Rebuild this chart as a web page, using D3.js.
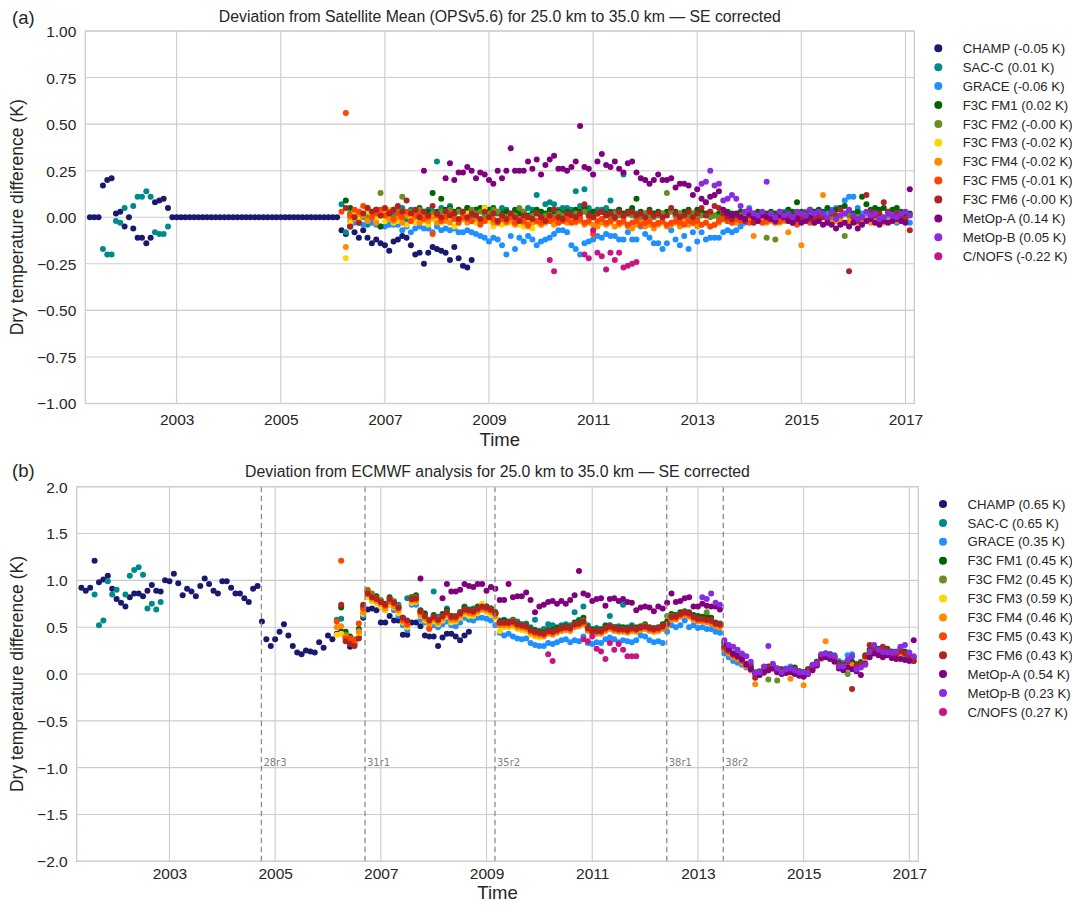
<!DOCTYPE html>
<html><head><meta charset="utf-8">
<script src="https://cdn.jsdelivr.net/npm/d3@7"></script>
<style>body{margin:0;background:#fff;} svg{display:block;}</style>
</head><body><svg id="chart" width="1072" height="905"></svg>
<script>
// ---------- categories / labels ----------
const satellites = ["CHAMP","SAC-C","GRACE","F3C FM1","F3C FM2","F3C FM3","F3C FM4","F3C FM5","F3C FM6","MetOp-A","MetOp-B","C/NOFS"];
const colors = ["#191970","#008b8b","#1e90ff","#006400","#6b8e23","#ffd700","#ff8c00","#ff4500","#b22222","#800080","#8a2be2","#c71585"];
const legendA = ["CHAMP (-0.05 K)","SAC-C (0.01 K)","GRACE (-0.06 K)","F3C FM1 (0.02 K)","F3C FM2 (-0.00 K)","F3C FM3 (-0.02 K)","F3C FM4 (-0.02 K)","F3C FM5 (-0.01 K)","F3C FM6 (-0.00 K)","MetOp-A (0.14 K)","MetOp-B (0.05 K)","C/NOFS (-0.22 K)"];
const legendB = ["CHAMP (0.65 K)","SAC-C (0.65 K)","GRACE (0.35 K)","F3C FM1 (0.45 K)","F3C FM2 (0.45 K)","F3C FM3 (0.59 K)","F3C FM4 (0.46 K)","F3C FM5 (0.43 K)","F3C FM6 (0.43 K)","MetOp-A (0.54 K)","MetOp-B (0.23 K)","C/NOFS (0.27 K)"];
const titleA = "Deviation from Satellite Mean (OPSv5.6) for 25.0 km to 35.0 km \u2014 SE corrected";
const titleB = "Deviation from ECMWF analysis for 25.0 km to 35.0 km \u2014 SE corrected";
const xTicks = [2003,2005,2007,2009,2011,2013,2015,2017];
const yTicksA = [-1,-0.75,-0.5,-0.25,0,0.25,0.5,0.75,1];
const yTicksB = [-2,-1.5,-1,-0.5,0,0.5,1,1.5,2];
const cycleNames = ["28r3","31r1","35r2","38r1","38r2"];
const cycleDates = [2004.74,2006.70,2009.16,2012.41,2013.48];

// ---------- monthly values (month index counted from Jan 2001) ----------
// Panel (a): deviation from satellite mean
const champA_start = 4;
const champA = [0,0,0,.17,.20,.21,.02,.03,-.05,0,-.06,-.11,-.11,-.14,-.11,.08,.09,.10,.05,
 0,0,0,0,0,0,0,0,0,0, 0,0,0,0,0,0,0,0,0,0, 0,0,0,0,0,0,0,0,0,0, 0,0,0,0,0,0,0,0,0,
 -.07,-.09,-.05,-.08,-.11,-.07,-.11,-.14,-.12,-.14,-.15,-.18,-.13,-.12,-.10,-.11,-.15,-.20,-.19,-.25,
 -.19,-.16,-.17,-.18,-.19,-.23,-.16,-.22,-.26,-.27,-.23];
const sacA1_start = 7;
const sacA1 = [-.17,-.20,-.20,-.02,-.03,.05,null,.06,.11,.11,.14,.11,-.08,-.09,-.09,-.05];
const sacA2_start = 62;
const sacA2 = [.07,-.08,.02,null,-.03,null,-.04,.03,null,.01,
 null,.00,.02,null,.05,-.02,.04,.03,null,.02,
 .04,.03,.30,.05,.01,.06,.03,null,.03,.05,
 .01,.04,null,.05,.03,.04,.02,.05,.04,null,
 .03,.04,.02,.05,.04,.12,.03,.07,.08,.07,
 .04,.05,.05,.04,.14,.06,.15,.05,.03,.04,
 .04,.05,.09,.03,.04,.23,.03,.04,.02];
const graceA_start = 64;
const graceA = [-.02,-.03,-.02,-.04,-.02,-.03,-.04,-.05,-.05,-.04,
 -.04,-.04,-.07,-.05,-.08,-.06,-.05,-.06,-.06,-.08,
 -.05,-.07,-.06,-.07,-.06,-.08,-.08,-.07,-.08,-.09,
 -.10,-.11,-.13,-.11,-.12,-.15,-.20,-.10,-.17,-.11,
 -.13,-.10,-.12,-.15,-.13,-.12,-.11,-.09,-.07,-.07,
 -.08,-.15,-.17,-.20,-.14,-.13,-.12,-.10,-.11,-.09,
 -.10,-.10,-.12,-.12,-.08,-.12,-.12,-.05,-.09,-.11,
 -.14,-.14,-.17,-.14,-.07,-.12,-.15,-.10,-.17,-.08,
 -.13,-.08,-.12,-.11,-.11,-.11,-.08,-.07,-.08,-.07,
 -.05,-.03,.05,-.01,.00,-.02,.00,.02,.01,.02,
 .03,.04,.01,.02,.02,.03,.02,.03,.01,.02,
 .03,.04,.05,.05,.09,.11,.11,.05,.02,.00,
 -.01,.00,-.02,-.01,.00,-.01,-.03,-.02,-.01,-.03];
const fm1A_start = 63;
const fm1A = [.09,.05,.03,.02,.01,.03,.02,.04,-.05,.03,
 .02,.04,.01,.03,.02,.03,.02,.05,.03,.03,
 .13,.03,.10,.04,.05,.03,.04,.02,.05,.03,
 .04,.05,.03,.04,.05,.03,.02,.03,.01,.04,
 .02,.03,.01,.02,.04,.03,.02,.04,.03,.03,
 .02,.03,.02,.04,.03,.05,.02,.03,.02,.03,
 .02,.03,.02,.04,.02,.03,.05,.10,.03,.02,
 .04,.02,.03,.02,.03,.04,.03,.02,.03,.04,
 .02,.04,.03,.02,.03,.01,.02,.02,.03,.02,
 .01,.03,.02,.01,.02,.03,.01,.02,.03,.02,
 .03,.02,.04,.03,.08,.03,.02,.04,.03,.04,
 .03,.05,.03,.04,.05,.06,.03,.02,.03,.11,
 .07,.04,.05,.04,.05,.03,.04,.05,.03,.02,
 .02];
const fm2A_start = 64;
const fm2A = [.02,.01,.03,.00,.01,.02,.04,.13,.01,.03,
 .00,.05,.11,.02,.03,.01,.04,.02,.00,.02,
 .01,.03,.02,.04,.01,.03,.02,.00,.04,.02,
 .03,.01,.02,.04,.03,.01,.00,.02,.01,.05,
 .03,.00,.01,.02,.00,.01,-.01,.00,.02,.01,
 .00,.01,.02,.00,.03,.01,.00,.02,-.01,.01,
 .00,.02,.01,.00,.02,.01,-.01,.00,.02,.01,
 .00,.01,.02,.13,.03,.01,.02,.00,.01,.02,
 -.01,.01,.08,.00,.01,.00,.01,-.02,.00,-.01,
 .01,.00,-.01,.00,-.02,.00,-.11,.00,-.12,-.01,
 -.02,.00,-.01,.00,-.02,.00,-.01,.00,-.02,.00,
 -.01,.00,-.02,.00,-.10,.01,-.01,.00,-.02];
const fm3A_start = 63;
const fm3A = [-.22,-.03,.03,-.02,.02,.03,.01,-.01,.02,-.02,
 .04,-.03,-.02,.01,-.04,.00,-.03,.01,-.02,-.04,
 -.01,-.02,-.03,.01,-.02,-.05,-.03,-.01,.02,-.02,
 -.03,-.01,.05,-.02,-.05,-.03,-.04,-.02,-.03,.00,
 -.04,-.05,-.02,-.06,-.03,-.04];
const fm4A_start = 63;
const fm4A = [-.16,.00,-.01,.02,.01,-.02,.00,-.03,.01,.02,
 -.01,-.02,.00,-.03,.01,-.02,.00,-.03,-.01,-.02,
 .00,-.03,-.01,-.02,-.03,.00,-.02,-.01,-.03,-.02,
 -.01,-.03,-.02,.00,-.03,-.02,-.01,-.03,-.02,-.04,
 -.02,-.03,-.05,-.03,-.02,-.04,-.03,-.02,-.04,-.03,
 -.02,-.03,-.01,-.03,-.02,-.04,-.03,-.04,-.05,-.03,
 -.04,-.03,-.05,-.04,-.03,-.05,-.06,-.04,-.03,-.05,
 -.04,-.06,-.04,-.03,-.05,-.04,-.03,-.05,-.02,-.04,
 -.03,-.05,-.04,-.03,-.05,-.04,-.03,.03,-.02,-.01,
 -.03,-.02,-.01,-.02,-.10,-.02,-.01,-.03,-.02,-.01,
 -.03,-.02,-.08,-.01,-.03,-.15,-.02,-.01,-.03,-.02,
 .12,-.01,-.03,-.02,-.01,-.03,-.02,-.01,-.03,-.02,
 -.01,-.03,-.02,-.01,-.03,-.02,-.01,-.02];
const fm5A_start = 62;
const fm5A = [.03,.56,.01,.04,.03,.06,.05,.00,.02,.04,
 .01,.03,-.01,.02,.00,.03,-.02,.01,.02,-.01,
 .00,-.09,.01,-.02,.00,.02,-.01,-.03,.00,-.01,
 -.02,.01,-.04,-.02,.00,-.01,-.03,-.01,-.02,.00,
 -.03,-.01,-.02,-.04,-.01,-.02,-.03,-.01,-.02,-.01,
 -.03,-.02,-.01,-.03,-.02,-.01,-.03,-.02,-.09,-.02,
 -.01,-.03,-.02,-.01,-.03,-.02,-.04,-.03,-.02,-.04,
 -.03,-.02,-.04,-.03,-.02,-.04,-.03,-.02,-.03,-.04,
 -.02,-.03,-.02,-.04,-.03,-.05,-.04,-.02,-.01,-.02,
 -.03,-.01,-.02,-.01,-.03,-.02,-.01,-.03,-.02,-.01,
 -.03,-.02,-.01,-.02,-.03,-.04,-.02,-.01,-.03,-.02];
const fm6A_start = 63;
const fm6A = [.05,-.05,.00,-.03,.02,.05,.03,.04,.01,.05,
 .02,.04,.06,.03,.09,.02,.04,.00,.03,.01,
 .06,.02,.00,.03,.01,.02,-.01,.03,.00,.02,
 .01,-.01,.03,.00,.02,-.02,.01,-.01,.02,.00,
 -.02,.01,.00,-.01,.02,.00,-.02,.01,.04,.00,
 -.01,.02,.01,.00,.02,.07,.01,.00,.02,.03,
 .01,.02,.00,.03,.01,.02,.03,.01,.02,.00,
 .03,.01,.02,.00,.01,.05,.02,.00,.01,.03,
 .00,.02,.05,.01,.03,.06,.05,.02,.00,-.01,
 .01,.00,-.02,.01,-.03,.00,.02,.01,-.01,.00,
 .02,.01,.00,-.01,.01,.00,.02,-.01,.00,.01,
 .00,-.01,.02,.01,.04,.02,-.29,.00,-.02,.00,
 .12,.03,.01,.02,.08,.03,.01,.02,.00,-.01,
 -.07];
const metopAA_start = 81;
const metopAA = [.25,null,null,null,null,.21,.29,.20,.24,.24,
 .27,.25,.21,.24,.23,.20,.18,.25,.21,.25,
 .37,.25,.25,.25,.30,.26,.31,.23,.28,.31,
 .33,.26,.26,.25,.27,.30,.49,.27,.26,.23,
 .30,.34,.28,.27,.30,.26,.24,.29,.30,.24,
 .21,.20,.18,.20,.23,.20,.20,.21,.16,.18,
 .18,.17,.12,.15,.10,.08,.11,.12,.14,.04,
 .02,.01,.02,.00,-.01,.02,.00,-.02,.01,.00,
 -.01,-.02,.01,.00,-.02,-.03,-.01,-.03,-.02,.00,
 -.03,-.02,-.04,-.03,-.04,-.06,-.04,-.03,-.05,-.03,
 -.06,-.04,-.02,-.01,-.03,-.04,-.02,-.03,-.02,-.01,
 -.02,-.03,.15];
const metopBA_start = 145;
const metopBA = [.18,.19,.25,.17,.18,.09,.10,.12,.10,.06,
 .03,.04,.02,.01,.03,.19,.02,.00,.03,.01,
 .02,.00,.03,.02,.01,.04,.02,.03,.02,.00,
 .03,-.01,.01,.02,.04,.01,-.01,.00,.03,.01,
 .02,-.01,.00,.02,.01,.00,.02,.03,.01];
const cnofsA_start = 110;
const cnofsA = [-.23,-.29,null,null,null,null,null,null,-.20,-.22,-.07,-.19,-.21,-.28,-.19,-.23,-.19,-.27,-.26,-.25,-.24];

// Panel (b): deviation from ECMWF analysis
const champB_start = 4;
const champB = [.92,.89,.92,1.21,.98,1.01,1.05,.91,.80,.76,.72,.82,.86,.86,.83,.89,.95,.89,.88,
 1.00,.99,1.07,.97,.84,.91,.88,.83,.94,1.02,.96,.89,.86,.99,.99,.92,.86,.86,.81,.77,.91,.94,.56,
 .37,.30,.37,.45,.53,.41,.30,.23,.21,.25,.24,.23,.34,.28,.41,.37,.43,
 .45,.40,.29,.33,.40,.60,.69,.70,.68,.55,.55,.62,.57,.57,.42,.42,.55,.55,.51,.41,.40,.40,.30,.39,.43,.43,.40,.36,.41,.45];
const sacB1_start = 7;
const sacB1 = [.85,.52,.57,.99,.85,.90,null,.85,1.05,1.11,1.14,1.06,.70,.75,.69,.77];
const sacB2_start = 62;
const sacB2 = [.58,.59,.42,null,.31,null,.62,.89,null,.80,
 null,.72,.78,null,.74,.55,.81,.82,null,.66,
 .65,.58,.88,.61,.60,.70,.62,null,.66,.72,
 .66,.70,null,.74,.72,.70,.66,.57,.58,null,
 .57,.56,.52,.54,.50,.58,.46,.48,.53,.52,
 .50,.52,.53,.52,.66,.58,.72,.52,.48,.49,
 .48,.52,.62,.50,.51,.74,.50,.52,.50];
const graceB_start = 64;
const graceB = [.38,.34,.32,.43,.65,.83,.78,.76,.72,.68,
 .74,.68,.62,.52,.47,.74,.74,.58,.55,.49,
 .52,.50,.53,.56,.52,.51,.55,.60,.58,.57,
 .60,.60,.59,.57,.52,.44,.41,.43,.40,.38,
 .37,.38,.33,.31,.30,.30,.33,.32,.34,.36,
 .37,.34,.36,.35,.40,.33,.32,.34,.33,.37,
 .39,.37,.34,.36,.35,.34,.36,.41,.40,.36,
 .34,.35,.33,.45,.52,.50,.52,.57,.50,.52,
 .49,.50,.48,.48,.45,.44,.22,.18,.14,.12,
 .10,.07,.10,.01,.00,.03,.07,.10,.06,.05,
 .06,.08,.05,.03,.02,.05,.07,.13,.19,.22,
 .21,.20,.14,.12,.20,.21,.11,.13,.18,.22,
 .25,.24,.22,.23,.21,.19,.20,.19,.16,.14];
const fm1B_start = 63;
const fm1B = [.71,.45,.40,.36,.48,.72,.88,.84,.83,.78,
 .75,.82,.76,.71,.60,.56,.82,.84,.68,.64,
 .57,.63,.58,.64,.68,.62,.62,.66,.71,.69,
 .68,.72,.72,.72,.70,.66,.56,.57,.56,.58,
 .54,.53,.52,.48,.47,.45,.44,.47,.47,.49,
 .50,.51,.50,.55,.56,.60,.50,.47,.47,.47,
 .51,.52,.50,.49,.50,.48,.50,.49,.51,.53,
 .50,.49,.50,.53,.56,.64,.63,.66,.67,.66,
 .63,.62,.61,.62,.60,.55,.54,.30,.26,.22,
 .20,.15,.11,.08,.02,.03,.04,.08,.09,.06,
 .05,.04,.06,.07,.03,.02,.05,.08,.13,.20,
 .22,.21,.19,.12,.10,.13,.13,.10,.12,.20,
 .26,.28,.27,.26,.27,.24,.22,.28,.24,.20,
 .18];
const fm2B_start = 64;
const fm2B = [.42,.38,.37,.46,.70,.90,.86,.80,.79,.74,
 .80,.78,.72,.58,.55,.81,.82,.66,.62,.58,
 .61,.59,.62,.66,.61,.62,.65,.69,.68,.67,
 .70,.73,.71,.69,.65,.55,.55,.55,.57,.53,
 .52,.51,.47,.45,.44,.43,.46,.45,.47,.49,
 .50,.49,.53,.54,.57,.49,.46,.46,.46,.49,
 .51,.49,.48,.48,.47,.49,.48,.50,.52,.49,
 .48,.49,.51,.62,.62,.61,.64,.66,.64,.61,
 .59,.59,.66,.57,.54,.53,.29,.23,.19,.18,
 .13,.09,.05,.00,.00,.02,-.06,.07,-.07,.02,
 .02,.03,.03,.00,.00,.02,.05,.10,.17,.19,
 .18,.16,.09,.07,.00,.10,.07,.09,.17];
const fm3B_start = 62;
const fm3B = [.42,.43,.38,.33,.31,.42,.64,.82,.78,.76,
 .72,.68,.74,.71,.65,.55,.50,.76,.77,.62,
 .57,.52,.56,.53,.57,.61,.55,.56,.60,.64,
 .62,.62,.65,.75,.66,.64,.60,.46,.50,.50,
 .51,.48,.47,.46,.42,.40,.39];
const fm4B_start = 62;
const fm4B = [.50,.51,.40,.36,.33,.45,.66,.85,.80,.78,
 .75,.70,.77,.72,.68,.56,.52,.78,.78,.63,
 .59,.54,.58,.55,.59,.63,.58,.58,.62,.66,
 .65,.64,.67,.69,.68,.66,.62,.52,.52,.52,
 .53,.50,.49,.48,.44,.42,.41,.40,.43,.42,
 .44,.46,.47,.46,.50,.51,.53,.46,.43,.43,
 .43,.46,.48,.46,.45,.45,.44,.46,.45,.47,
 .48,.46,.45,.46,.48,.51,.58,.58,.61,.63,
 .61,.58,.56,.56,.55,.54,.51,.50,.34,.22,
 .18,.16,.12,.08,.04,-.11,-.01,.01,.04,.06,
 .02,.01,.01,-.05,.02,-.01,-.12,.01,.04,.09,
 .16,.35,.17,.15,.08,.06,.10,.09,.06,.08,
 .16,.20,.23,.22,.22,.23,.20,.18,.21];
const fm5B_start = 62;
const fm5B = [.56,1.21,.38,.38,.36,.54,.70,.88,.83,.81,
 .77,.73,.78,.75,.70,.58,.53,.80,.80,.66,
 .61,.48,.60,.57,.61,.65,.60,.60,.64,.68,
 .67,.66,.69,.71,.70,.68,.64,.54,.54,.54,
 .55,.52,.51,.50,.46,.44,.43,.42,.45,.44,
 .46,.48,.49,.48,.52,.53,.55,.48,.45,.45,
 .45,.48,.50,.48,.47,.47,.46,.48,.47,.49,
 .50,.48,.47,.48,.50,.53,.60,.60,.63,.65,
 .63,.60,.58,.58,.57,.56,.53,.52,.26,.24,
 .20,.18,.14,.10,.06,.00,.01,.03,.06,.08,
 .04,.03,.03,.04,.04,.01,.00,.03,.06,.11];
const fm6B_start = 63;
const fm6B = [.74,.35,.32,.30,.38,.74,.86,.82,.80,.77,
 .74,.80,.76,.71,.60,.57,.80,.81,.67,.62,
 .57,.61,.58,.62,.66,.61,.61,.65,.69,.68,
 .67,.70,.72,.71,.69,.65,.55,.55,.55,.56,
 .53,.52,.51,.47,.45,.44,.43,.46,.45,.47,
 .49,.50,.49,.53,.54,.56,.49,.46,.46,.46,
 .49,.51,.49,.48,.48,.47,.49,.48,.50,.51,
 .49,.48,.49,.51,.54,.61,.61,.64,.66,.65,
 .61,.59,.59,.58,.57,.54,.53,.28,.25,.21,
 .19,.15,.11,.07,-.04,.02,.04,.07,.09,.05,
 .04,.04,.05,.05,.02,.01,.04,.07,.12,.19,
 .21,.20,.18,.11,.09,.13,-.16,.09,.11,.19,
 .31,.26,.25,.29,.26,.23,.21,.24,.22,.18,
 .14];
const metopAB_start = 81;
const metopAB = [1.02,null,null,null,null,.81,.96,.88,.88,.90,
 .96,.94,.93,.96,.96,.89,.93,.91,.79,.79,
 .96,.82,.83,.83,.87,.79,.66,.72,.74,.77,
 .78,.75,.78,.75,.79,.84,1.10,.86,.84,.78,
 .80,.81,.73,.80,.81,.78,.80,.77,.76,.68,
 .71,.72,.71,.67,.72,.70,.76,.86,.77,.78,
 .81,.82,.72,.72,.75,.73,.72,.72,.69,.33,
 .27,.22,.19,.16,.10,.05,.01,-.01,.02,.04,
 .06,.02,.00,.01,.02,.00,-.02,-.03,.00,.04,
 .09,.17,.18,.16,.13,.06,.04,.07,.05,.03,
 -.01,.11,.18,.22,.20,.18,.20,.17,.16,.16,
 .15,.14,.36];
const metopBB_start = 145;
const metopBB = [.82,.80,.86,.76,.74,.36,.31,.29,.26,.22,
 .19,.13,.01,.02,.08,.30,.11,.06,.02,.05,
 .06,.04,.02,.02,.01,.10,.11,.21,.22,.20,
 .19,.08,.08,.15,.19,.05,.07,.10,.24,.31,
 .26,.24,.23,.23,.24,.29,.31,.23,.19];
const cnofsB_start = 110;
const cnofsB = [.21,.14,null,null,null,null,null,null,.37,.35,.40,.27,.24,.16,.33,.26,.32,.26,.19,.19,.19];

// ---------- tables built from the arrays ----------
const seriesA = [
  [[champA_start,champA]], [[sacA1_start,sacA1],[sacA2_start,sacA2]], [[graceA_start,graceA]],
  [[fm1A_start,fm1A]], [[fm2A_start,fm2A]], [[fm3A_start,fm3A]], [[fm4A_start,fm4A]],
  [[fm5A_start,fm5A]], [[fm6A_start,fm6A]], [[metopAA_start,metopAA]], [[metopBA_start,metopBA]], [[cnofsA_start,cnofsA]]
];
const seriesB = [
  [[champB_start,champB]], [[sacB1_start,sacB1],[sacB2_start,sacB2]], [[graceB_start,graceB]],
  [[fm1B_start,fm1B]], [[fm2B_start,fm2B]], [[fm3B_start,fm3B]], [[fm4B_start,fm4B]],
  [[fm5B_start,fm5B]], [[fm6B_start,fm6B]], [[metopAB_start,metopAB]], [[metopBB_start,metopBB]], [[cnofsB_start,cnofsB]]
];

// ---------- drawing ----------
const FONT = '"Liberation Sans", Arial, Helvetica, sans-serif';
const TXT = "#262626", GRID = "#cccccc";
const svg = d3.select("#chart").style("font-family", FONT);
const xDomain = [2001.245, 2017.17];

const panels = [
  {left:85.3, right:914.3, top:31, bottom:403.5, yDomain:[-1,1], yTicks:yTicksA, fmt:d3.format(".2f"),
   title:titleA, legend:legendA, lx:938.3, ly:48.3, series:seriesA, cycles:false, tag:"(a)", tagY:24,
   tickDy:21, timeDy:42.5},
  {left:76.7, right:918.3, top:486.7, bottom:861.3, yDomain:[-2,2], yTicks:yTicksB, fmt:d3.format(".1f"),
   title:titleB, legend:legendB, lx:943, ly:504, series:seriesB, cycles:true, tag:"(b)", tagY:477,
   tickDy:18, timeDy:37.5}
];

panels.forEach(p => {
  const x = d3.scaleLinear().domain(xDomain).range([p.left, p.right]);
  const y = d3.scaleLinear().domain(p.yDomain).range([p.bottom, p.top]);
  const g = svg.append("g");

  // grid
  g.selectAll(null).data(xTicks).join("line")
    .attr("x1", d => x(d)).attr("x2", d => x(d)).attr("y1", p.top).attr("y2", p.bottom)
    .attr("stroke", GRID).attr("stroke-width", 1.1);
  g.selectAll(null).data(p.yTicks).join("line")
    .attr("x1", p.left).attr("x2", p.right).attr("y1", d => y(d)).attr("y2", d => y(d))
    .attr("stroke", GRID).attr("stroke-width", 1.1);

  // axes via d3 (labels only)
  const xAxis = d3.axisBottom(x).tickValues(xTicks).tickFormat(d3.format("d")).tickSize(0).tickPadding(0);
  const gx = g.append("g").attr("transform", `translate(0,${p.bottom})`).call(xAxis);
  gx.select(".domain").remove();
  gx.selectAll("text").attr("y", 0).attr("dy", p.tickDy + "px").attr("fill", TXT).style("font-size", "15.5px").style("font-family", FONT);
  const yAxis = d3.axisLeft(y).tickValues(p.yTicks).tickFormat(p.fmt).tickSize(0).tickPadding(0);
  const gy = g.append("g").attr("transform", `translate(${p.left - 9},0)`).call(yAxis);
  gy.select(".domain").remove();
  gy.selectAll("text").attr("x", 0).attr("dy", "0.35em").attr("fill", TXT).style("font-size", "15.5px").style("font-family", FONT);

  // points
  const clipId = "clip" + p.tag.replace(/\W/g, "");
  svg.append("clipPath").attr("id", clipId).append("rect")
    .attr("x", p.left).attr("y", p.top).attr("width", p.right - p.left).attr("height", p.bottom - p.top);
  const pg = g.append("g").attr("clip-path", `url(#${clipId})`);
  p.series.forEach((segs, si) => {
    const pts = [];
    segs.forEach(([start, vals]) => vals.forEach((v, i) => {
      if (v !== null) pts.push({t: 2001 + (start + i) / 12, v});
    }));
    pg.append("g").selectAll("circle").data(pts).join("circle")
      .attr("cx", d => x(d.t)).attr("cy", d => y(d.v)).attr("r", 3)
      .attr("fill", colors[si]);
  });

  // cycle lines
  if (p.cycles) {
    const cg = g.append("g");
    cg.selectAll("line").data(cycleDates).join("line")
      .attr("x1", d => x(d)).attr("x2", d => x(d)).attr("y1", p.top).attr("y2", p.bottom)
      .attr("stroke", "#8c8c8c").attr("stroke-width", 1.3).attr("stroke-dasharray", "5.5,3.5");
    cg.selectAll("text").data(cycleDates).join("text")
      .attr("x", d => x(d) + 2).attr("y", y(-0.94)).attr("dy", "0.35em")
      .attr("fill", "#808080").style("font-size", "10px").style("font-family", '"DejaVu Sans", sans-serif')
      .text((d, i) => cycleNames[i]);
  }

  // frame
  g.append("rect").attr("x", p.left).attr("y", p.top).attr("width", p.right - p.left).attr("height", p.bottom - p.top)
    .attr("fill", "none").attr("stroke", GRID).attr("stroke-width", 1.3);

  // titles
  g.append("text").attr("x", (p.left + p.right) / 2).attr("y", p.top - 9.5).attr("text-anchor", "middle")
    .attr("fill", TXT).style("font-size", "15.8px").text(p.title);
  g.append("text").attr("x", (p.left + p.right) / 2).attr("y", p.bottom + p.timeDy).attr("text-anchor", "middle")
    .attr("fill", TXT).style("font-size", "18.5px").text("Time");
  g.append("text").attr("transform", `translate(23,${(p.top + p.bottom) / 2}) rotate(-90)`).attr("text-anchor", "middle")
    .attr("fill", TXT).style("font-size", "17.5px").text("Dry temperature difference (K)");
  g.append("text").attr("x", 12).attr("y", p.tagY).attr("fill", TXT).style("font-size", "18.5px").text(p.tag);

  // legend
  const lg = g.append("g");
  p.legend.forEach((lab, i) => {
    lg.append("circle").attr("cx", p.lx).attr("cy", p.ly + i * 18.9).attr("r", 4).attr("fill", colors[i]);
    lg.append("text").attr("x", p.lx + 24.4).attr("y", p.ly + i * 18.9).attr("dy", "0.35em")
      .attr("fill", TXT).style("font-size", "13.2px").text(lab);
  });
});
</script>
</body></html>
